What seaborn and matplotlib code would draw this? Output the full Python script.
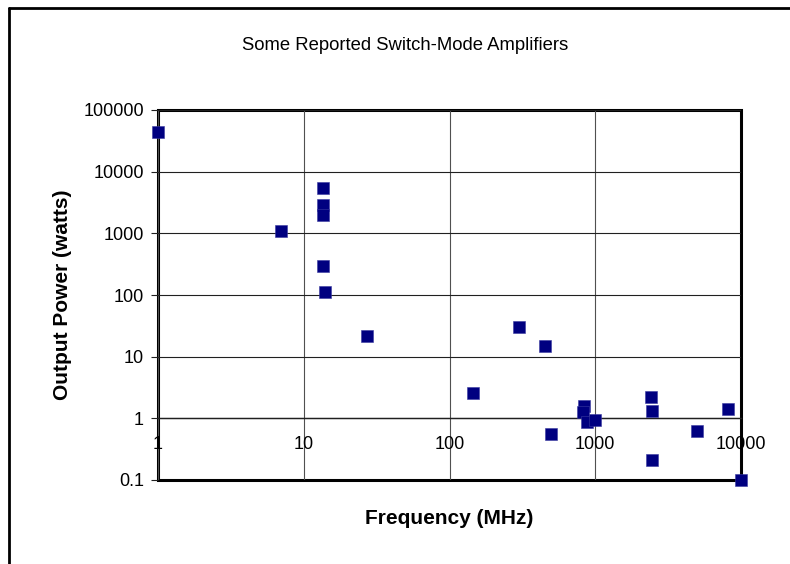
import matplotlib
matplotlib.use("Agg")
import matplotlib.pyplot as plt
from matplotlib.lines import Line2D
import seaborn as sns
import pandas as pd

# Data
freq_mhz = [1, 7, 13.56, 13.56, 13.56, 13.56, 14, 27, 145, 300, 450, 500,
            840, 830, 880, 1000, 2400, 2450, 2450, 5000, 8200, 10000]
power_w = [44000, 1100, 5400, 2900, 2000, 300, 110, 22, 2.6, 30, 15, 0.55,
           1.6, 1.25, 0.88, 0.95, 2.2, 1.3, 0.21, 0.62, 1.4, 0.1]
x_ticks = [1, 10, 100, 1000, 10000]
x_tick_labels = ["1", "10", "100", "1000", "10000"]
y_ticks = [0.1, 1, 10, 100, 1000, 10000, 100000]
y_tick_labels = ["0.1", "1", "10", "100", "1000", "10000", "100000"]

title = "Some Reported Switch-Mode Amplifiers"
x_label = "Frequency (MHz)"
y_label = "Output Power (watts)"

sns.set_style("white")
plt.rcParams["font.family"] = ["Liberation Sans", "DejaVu Sans"]
plt.rcParams["text.color"] = "black"
plt.rcParams["axes.labelcolor"] = "black"
plt.rcParams["xtick.color"] = "black"
plt.rcParams["ytick.color"] = "black"

df = pd.DataFrame({"freq": freq_mhz, "power": power_w})

W, H = 790, 564
fig = plt.figure(figsize=(W / 100, H / 100), dpi=100)
ax = fig.add_axes([158 / W, 1 - 480 / H, (741 - 158) / W, (480 - 110) / H])

ax.set_xscale("log")
ax.set_yscale("log")
ax.set_xlim(1, 10000)
ax.set_ylim(0.1, 100000)

sns.scatterplot(data=df, x="freq", y="power", marker="s", s=64,
                color="#000080", edgecolor="#3a3aa0", linewidth=0.4,
                clip_on=False, zorder=5, ax=ax)

ax.set_xticks(x_ticks, x_tick_labels)
ax.set_yticks(y_ticks, y_tick_labels)
ax.minorticks_off()
ax.xaxis.set_minor_locator(matplotlib.ticker.NullLocator())
ax.yaxis.set_minor_locator(matplotlib.ticker.NullLocator())

ax.grid(True, which="major", axis="y", color="#202020", linewidth=0.8)
ax.grid(True, which="major", axis="x", color="#505050", linewidth=0.8)
ax.set_axisbelow(True)

# Frame of the plot area
for side in ["top", "left", "right"]:
    ax.spines[side].set_visible(False)
ax.patch.set_edgecolor("black")
ax.patch.set_linewidth(2.2)
ax.patch.set_facecolor("white")

# x axis crosses at y = 1
ax.spines["bottom"].set_position(("data", 1))
ax.spines["bottom"].set_color("#202020")
ax.spines["bottom"].set_linewidth(1.0)

ax.tick_params(axis="x", direction="out", length=4, width=0.8, color="#202020",
               pad=9, labelsize=13, labelcolor="black")
ax.tick_params(axis="y", direction="out", length=5, width=0.8, color="#202020",
               pad=5, labelsize=13, left=True, labelcolor="black")

ax.set_xlabel("")
ax.set_ylabel("")

fig.text(405 / W, 1 - 46 / H, title, ha="center", va="center", fontsize=13.3,
         color="black")
fig.text(449 / W, 1 - 518 / H, x_label, ha="center", va="center",
         fontsize=15, fontweight="bold", color="black")
fig.text(62 / W, 1 - 295 / H, y_label, ha="center", va="center",
         fontsize=15, fontweight="bold", rotation=90, color="black")

# Outer chart border (left and top visible)
fig.add_artist(Line2D([8.5 / W, 8.5 / W], [0, 1 - 8 / H], color="black",
                      linewidth=2.0, transform=fig.transFigure))
fig.add_artist(Line2D([8.5 / W, 1], [1 - 8 / H, 1 - 8 / H], color="black",
                      linewidth=2.0, transform=fig.transFigure))

fig.savefig("out.png", dpi=100, facecolor="white")
